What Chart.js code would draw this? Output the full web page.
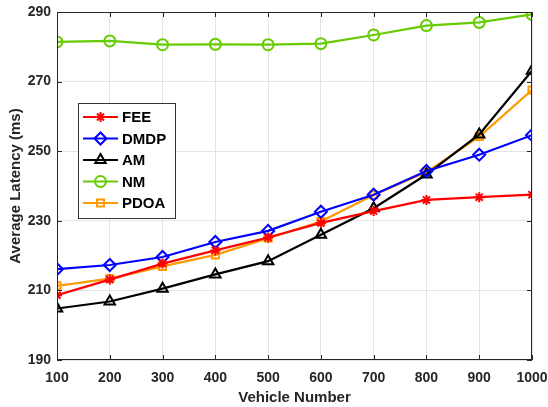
<!DOCTYPE html>
<html><head><meta charset="utf-8">
<script src="https://cdn.jsdelivr.net/npm/chart.js@4"></script>
<style>html,body{margin:0;padding:0;background:#fff}#wrap{width:548px;height:407px}</style>
</head><body><div id="wrap"><canvas id="c" width="548" height="407"></canvas></div>
<script>
const vehicles = [100,200,300,400,500,600,700,800,900,1000];
const yTicks = [190,210,230,250,270,290];
const fee  = [208.6,213.1,217.7,221.5,225.2,229.4,232.8,236.0,236.8,237.5];
const dmdp = [216.1,217.3,219.6,223.9,227.1,232.6,237.5,244.3,249.0,254.6];
const am   = [204.8,206.8,210.5,214.6,218.4,226.0,233.6,243.3,254.8,273.1];
const nm   = [281.4,281.7,280.6,280.7,280.6,280.9,283.4,286.1,287.0,289.3];
const pdoa = [211.3,213.4,216.9,220.2,225.0,229.8,237.4,244.0,254.2,267.6];

const FONT = 'Liberation Sans, Arial, Helvetica, sans-serif';
const AX = '#262626';

function ds(label, data, color, style, r){
  return {label, data, borderColor:color, backgroundColor:color, pointBorderColor:color,
    pointBackgroundColor: style==='star'? color : 'rgba(0,0,0,0)', pointStyle:style,
    pointRadius:r, pointHoverRadius:r, pointBorderWidth:2, borderWidth:2.2, tension:0};
}

const boxPlugin = {
  id:'box',
  afterDraw(chart){
    const {ctx, chartArea:a, scales} = chart;
    ctx.save();
    ctx.strokeStyle = AX; ctx.lineWidth = 1;
    ctx.strokeRect(a.left+0.5, a.top+0.5, a.right-a.left-1, a.bottom-a.top-1);
    ctx.beginPath();
    const tl = 5;
    vehicles.forEach(v=>{
      const x = Math.round(scales.x.getPixelForValue(v))+0.5;
      ctx.moveTo(x,a.bottom); ctx.lineTo(x,a.bottom-tl);
      ctx.moveTo(x,a.top); ctx.lineTo(x,a.top+tl);
    });
    yTicks.forEach(v=>{
      const y = Math.round(scales.y.getPixelForValue(v))+0.5;
      ctx.moveTo(a.left,y); ctx.lineTo(a.left+tl,y);
      ctx.moveTo(a.right,y); ctx.lineTo(a.right-tl,y);
    });
    ctx.stroke();
    // legend inside
    const lx = 78, ly = 103, lw = 97, lh = 115;
    ctx.fillStyle = '#fff';
    ctx.fillRect(lx, ly, lw, lh);
    ctx.strokeStyle = '#333'; ctx.lineWidth = 1;
    ctx.strokeRect(lx+0.5, ly+0.5, lw, lh);
    ctx.font = 'bold 15px ' + FONT;
    ctx.textBaseline = 'middle';
    chart.data.datasets.forEach((d,i)=>{
      const y = 117 + i*21.5;
      ctx.strokeStyle = d.borderColor; ctx.lineWidth = 2;
      ctx.beginPath(); ctx.moveTo(83,y); ctx.lineTo(118,y); ctx.stroke();
      ctx.fillStyle = d.pointBackgroundColor; ctx.strokeStyle = d.pointBorderColor;
      Chart.helpers.drawPoint(ctx, {pointStyle:d.pointStyle, radius:d.pointRadius, borderWidth:2, rotation:0}, 100.5, y);
      ctx.fillStyle = '#000';
      ctx.fillText(d.label, 122, y+1);
    });
    ctx.restore();
  }
};

new Chart(document.getElementById('c'), {
  type:'line',
  data:{ labels: vehicles, datasets:[
    ds('FEE', fee, '#ff0000', 'star', 5),
    ds('DMDP', dmdp, '#0000ff', 'rectRot', 6),
    ds('AM', am, '#000000', 'triangle', 6),
    ds('NM', nm, '#66cc00', 'circle', 5.5),
    ds('PDOA', pdoa, '#ff9900', 'rect', 5)
  ]},
  options:{
    responsive:false, animation:false,
    layout:{padding:{top:12,right:16,left:0,bottom:0}},
    plugins:{legend:{display:false}, tooltip:{enabled:false}},
    scales:{
      x:{type:'linear', min:100, max:1000,
        afterBuildTicks(s){ s.ticks = vehicles.map(v=>({value:v})); },
        afterFit(s){ s.height = 47; s.paddingRight = 0; },
        grid:{color:'#e3e3e3', drawTicks:false},
        border:{display:false},
        ticks:{color:AX, padding:10, maxRotation:0, callback:(v)=>String(v), font:{family:FONT, size:14, weight:'bold'}},
        title:{display:true, text:'Vehicle Number', color:AX, padding:{top:1,bottom:0}, font:{family:FONT, size:15, weight:'bold'}}
      },
      y:{min:190, max:290,
        afterBuildTicks(s){ s.ticks = yTicks.map(v=>({value:v})); },
        afterFit(s){ s.width = 57; s.paddingTop = 0; },
        grid:{color:'#e3e3e3', drawTicks:false},
        border:{display:false},
        ticks:{color:AX, padding:6, font:{family:FONT, size:14, weight:'bold'}},
        title:{display:true, text:'Average Latency (ms)', color:AX, padding:{top:7,bottom:0}, font:{family:FONT, size:15, weight:'bold'}}
      }
    }
  },
  plugins:[boxPlugin]
});
</script></body></html>
